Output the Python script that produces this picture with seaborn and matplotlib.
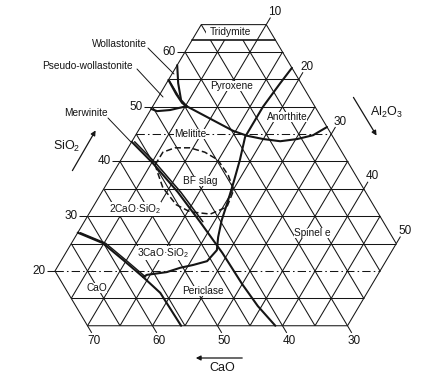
import numpy as np
import seaborn as sns
import matplotlib.pyplot as plt

sns.set_theme(style="white")
plt.rcParams["font.family"] = ["Liberation Sans", "DejaVu Sans"]
plt.rcParams["mathtext.fontset"] = "custom"
plt.rcParams["mathtext.rm"] = "Liberation Sans"
plt.rcParams["mathtext.it"] = "Liberation Sans:italic"
plt.rcParams["mathtext.default"] = "regular"

# section at 10 % MgO: CaO + SiO2 + Al2O3 = 90
# phase boundaries as (Al2O3 %, SiO2 %)
tridymite_al = [0, 12.8]
tridymite_si = [62.2, 62.2]

wollastonite_al = [0, 1.8, 3.8, 5.2]
wollastonite_si = [57.6, 54.3, 51.2, 50.1]

pseudo_al = [0, 2.5, 4.2, 5.2]
pseudo_si = [54.9, 52.3, 50.7, 50.1]

melilite_top_al = [0, 1.1, 3.0, 5.2]
melilite_top_si = [49.6, 49.2, 49.4, 50.1]

anorthite_al = [5.2, 14.6, 17.2, 20.0, 22.8, 25.2, 27.3, 28.7]
anorthite_si = [50.1, 45.6, 44.7, 44.1, 43.7, 44.1, 44.8, 46.3]

spinel_al = [17.9, 17.5, 17.0, 17.0, 17.0, 18.3, 19.5, 20.3, 21.0, 22.0,
             23.0, 22.5, 20.7, 19.0, 17.3, 14.5, 14.1]
spinel_si = [57.1, 54.3, 50.0, 46.7, 44.5, 40.3, 35.7, 32.4, 29.3, 26.2,
             23.8, 21.8, 21.1, 20.6, 19.8, 19.3, 18.9]

merwinite_al = [0, 5.2, 11.7, 17.8, 24.1, 30.0, 34.4, 38.9]
merwinite_si = [43.6, 39.7, 34.4, 29.0, 23.3, 17.6, 13.6, 10.0]

cao_al = [0, 4.8, 9.5, 14.1, 18.2, 24.4]
cao_si = [27.0, 25.1, 22.0, 18.9, 16.0, 10.0]

bf_slag_al = [5.7, 5.75, 7.2, 9.5, 12.2, 14.9, 17.9, 20.1, 20.6, 18.7,
              15.4, 12.6, 9.0, 6.7, 5.7]
bf_slag_si = [39.4, 41.7, 42.5, 42.5, 41.7, 40.3, 37.5, 34.8, 31.7, 30.4,
              30.8, 32.1, 35.2, 38.1, 39.4]

sio2_ticks = [20, 30, 40, 50, 60]
al2o3_ticks = [10, 20, 30, 40, 50]
cao_ticks = [70, 60, 50, 40, 30]


def tern(al, si):
    al = np.asarray(al, dtype=float)
    si = np.asarray(si, dtype=float)
    return al + si / 2, si


def pix(x, y):
    # reference pixel position -> data coordinates
    return (x + 10) / 6.5, (380.5 - y) / 5.475


fig = plt.figure(figsize=(4.38, 3.80), dpi=100)
ax = fig.add_axes([0, 0, 1, 1])
ax.set_xlim(pix(0, 0)[0], pix(438, 0)[0])
ax.set_ylim(pix(0, 380)[1], pix(0, 0)[1])
ax.axis("off")

ink = "#151515"
grid_kw = dict(color=ink, lw=0.75, solid_capstyle="butt")
dashdot = (0, (8, 3, 1.5, 3))

# outline of the section
hex_al = [0, 10, 50, 50, 10, 0, 0]
hex_si = [65, 65, 25, 10, 10, 20, 65]
ax.plot(*tern(hex_al, hex_si), zorder=3, **grid_kw)

# iso-SiO2 lines
for s in range(15, 65, 5):
    a0, a1 = max(0, 20 - s), min(50, 75 - s)
    ax.plot(*tern([a0, a1], [s, s]), ls=dashdot if s in (20, 45) else "-", **grid_kw)

# iso-Al2O3 lines
for a in range(5, 50, 5):
    s0, s1 = max(10, 20 - a), min(65, 75 - a)
    ax.plot(*tern([a, a], [s0, s1]), **grid_kw)

# iso-CaO lines
for c in range(20, 70, 5):
    s0, s1 = max(10, 40 - c), min(65, 90 - c)
    ax.plot(*tern([90 - c - s0, 90 - c - s1], [s0, s1]), **grid_kw)


def boundary(al, si, lw=1.5, dash=None, shift=0.0):
    x, y = tern(al, si)
    line_kw = dict(dashes=dash) if dash else {}
    sns.lineplot(x=x + shift, y=y, sort=False, estimator=None, color=ink,
                 lw=lw, ax=ax, zorder=3, **line_kw)


boundary(tridymite_al, tridymite_si, lw=1.2)
boundary(wollastonite_al, wollastonite_si)
boundary(pseudo_al, pseudo_si)
boundary(melilite_top_al, melilite_top_si)
boundary(anorthite_al, anorthite_si)
boundary(spinel_al, spinel_si)
boundary(merwinite_al, merwinite_si)
boundary(merwinite_al[:4], merwinite_si[:4], lw=1.1, shift=0.45)
boundary(cao_al, cao_si)
boundary(cao_al[:4], cao_si[:4], lw=1.0, shift=0.4)
boundary(bf_slag_al, bf_slag_si, lw=1.1, dash=(4, 2))

# ticks and tick labels
tick_fs = 8.5
for s in sio2_ticks:
    x, y = tern(0, s)
    ax.plot([x - 1.25, x], [y, y], **grid_kw)
    ax.text(x - 1.45, y, str(s), ha="right", va="center", fontsize=tick_fs, color=ink)

for a in al2o3_ticks:
    x, y = tern(a, 75 - a)
    ax.plot([x, x + 0.65], [y, y + 1.3], **grid_kw)
    ax.text(x + 0.3, y + 1.2, str(a), ha="left", va="bottom", fontsize=tick_fs, color=ink)

for c in cao_ticks:
    x, y = tern(80 - c, 10)
    ax.plot([x, x + 0.65], [y, y - 1.3], **grid_kw)
    ax.text(x + 1.0, y - 1.6, str(c), ha="center", va="top", fontsize=tick_fs, color=ink)

# phase field names
phase_fs = 7.3
phase_labels = [
    ("Tridymite", 230, 32, 2.5), ("Pyroxene", 232, 86, 0.1),
    ("Anorthite", 287, 117, 0.1), ("Melitite", 190, 134, 0.1),
    ("BF slag", 200, 181, 0.1), ("2CaO·SiO$_2$", 135, 209, 0.1),
    ("3CaO·SiO$_2$", 163, 253, 0.1), ("CaO", 97, 288, 0.1),
    ("Periclase", 203, 291, 0.1), ("Spinel e", 312, 233, 0.1),
]
for name, px, py, pad in phase_labels:
    ax.text(*pix(px, py), name, ha="center", va="center", fontsize=phase_fs,
            color=ink, bbox=dict(fc="white", ec="none", pad=pad), zorder=2.5)

outside_labels = [
    ("Wollastonite", 119, 44, (148, 48), (174, 74)),
    ("Pseudo-wollastonite", 87, 66, (137, 69), (163, 97)),
    ("Merwinite", 86, 113, (108, 118), (131, 142)),
]
for name, px, py, p0, p1 in outside_labels:
    ax.text(*pix(px, py), name, ha="center", va="center", fontsize=phase_fs, color=ink)
    (x0, y0), (x1, y1) = pix(*p0), pix(*p1)
    ax.plot([x0, x1], [y0, y1], color=ink, lw=0.7)

# component arrows
arrow_kw = dict(arrowstyle="-|>", color=ink, lw=0.9, mutation_scale=7)
ax.annotate("", xy=pix(97, 128), xytext=pix(71, 173), arrowprops=arrow_kw)
ax.annotate("", xy=pix(378, 138), xytext=pix(352, 95), arrowprops=arrow_kw)
ax.annotate("", xy=pix(193, 358), xytext=pix(245, 358), arrowprops=arrow_kw)
ax.text(*pix(67, 146), "SiO$_2$", ha="center", va="center", fontsize=9, color=ink)
ax.text(*pix(386, 112), "Al$_2$O$_3$", ha="center", va="center", fontsize=9, color=ink)
ax.text(*pix(222, 368), "CaO", ha="center", va="center", fontsize=9, color=ink)

fig.savefig("out.png", dpi=100, facecolor="white")
